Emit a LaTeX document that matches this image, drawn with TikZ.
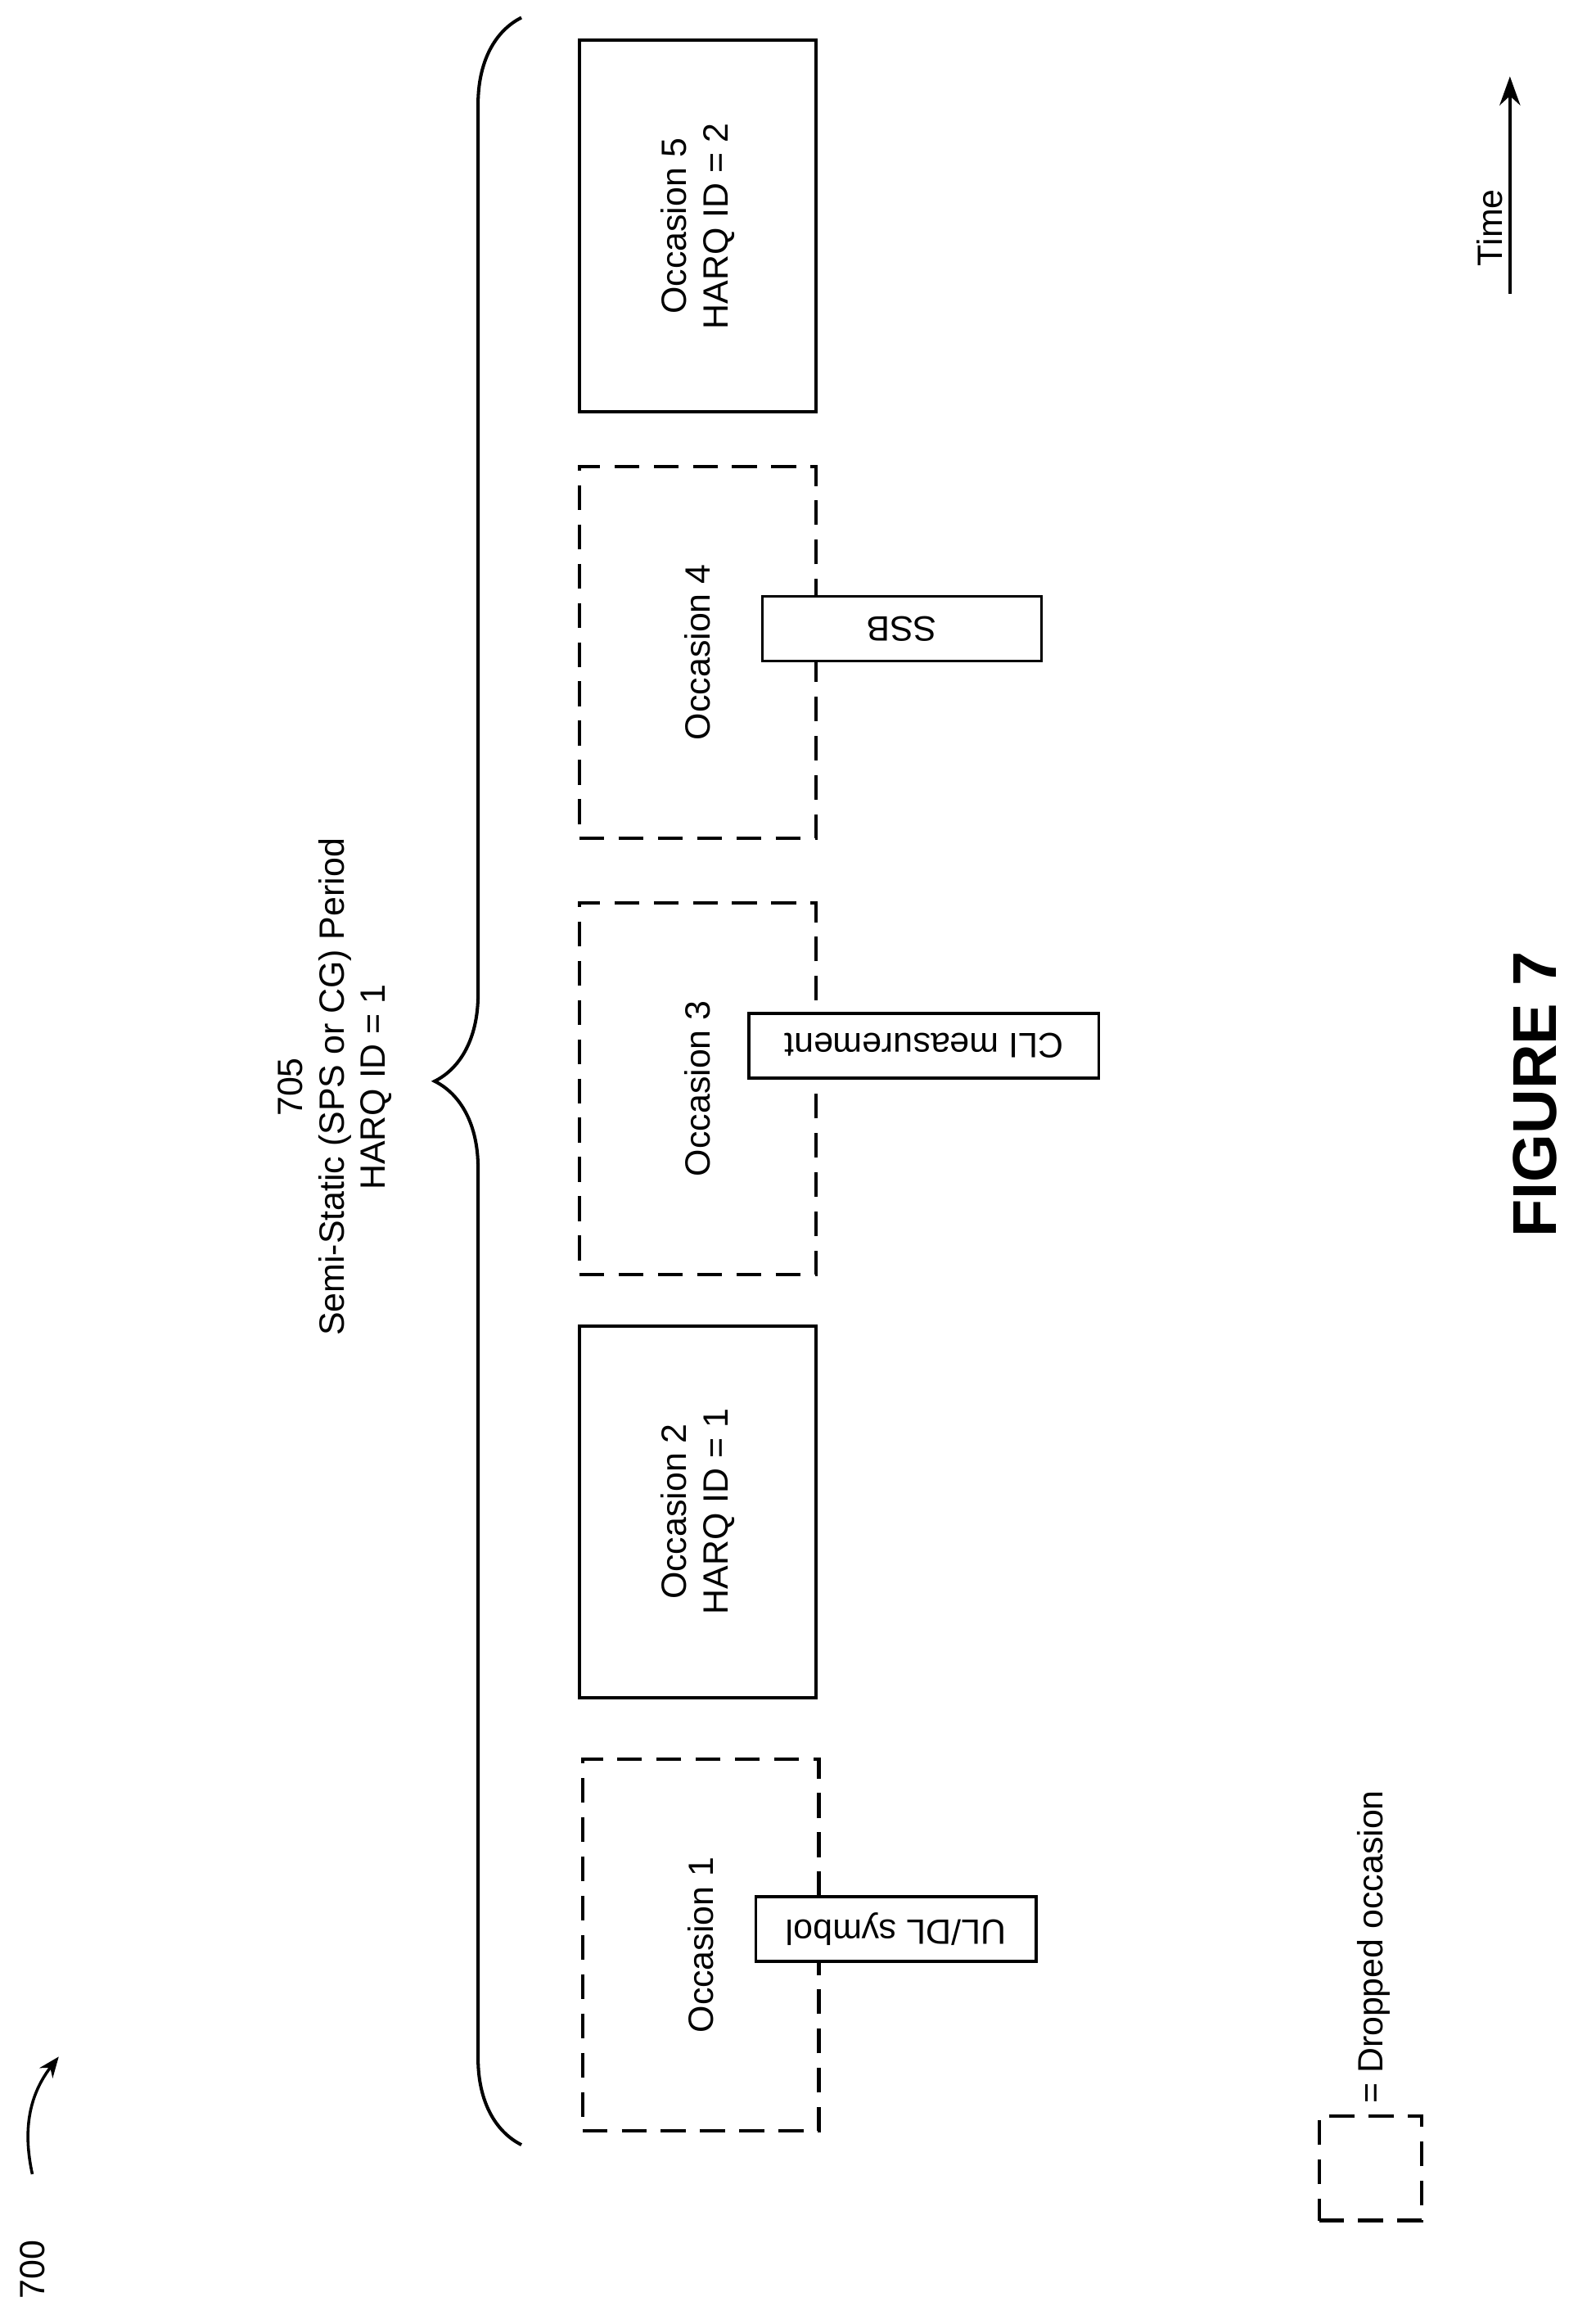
\documentclass[tikz,border=0pt]{standalone}
\usepackage{fontspec}
\setmainfont{Liberation Sans}
\usetikzlibrary{decorations.pathreplacing,arrows.meta}

\tikzset{
  occ/.style={draw, line width=1.6pt, minimum width=161*0.025cm, minimum height=253*0.025cm, inner sep=0pt},
  dropped/.style={occ, dash pattern=on 12pt off 7pt},
  tag/.style={draw, fill=white, line width=1.4pt, inner sep=0pt, rotate=180, minimum height=44*0.025cm, font=\fontsize{17}{20}\selectfont},
  lbl/.style={rotate=90, align=center, font=\fontsize{17}{20}\selectfont},
}

\begin{document}
\begin{tikzpicture}[x=0.025cm, y=-0.025cm]

    % frame
    \useasboundingbox (0,0) rectangle (1080,1582);

    % occasions (time runs upwards)
    \node[dropped] (o1) at (477,1324) {};
    \node[occ] (o2) at (475,1029) {};
    \node[dropped] (o3) at (475,741) {};
    \node[dropped] (o4) at (475,444) {};
    \node[occ] (o5) at (475,154) {};

    \node[lbl] at (o1) {Occasion 1};
    \node[lbl] at (o2) {Occasion 2\\HARQ ID = 1};
    \node[lbl] at (o3) {Occasion 3};
    \node[lbl] at (o4) {Occasion 4};
    \node[lbl] at (o5) {Occasion 5\\HARQ ID = 2};

    % blocking symbols
    \node[tag, minimum width=191*0.025cm] (ul) at (610,1313) {UL/DL symbol};
    \node[tag, minimum width=238*0.025cm] (cli) at (629,712) {CLI measurement};
    \node[tag, minimum width=190*0.025cm] (ssb) at (614,428) {SSB};

    % period brace
    \coordinate (b1) at (355,1460);
    \coordinate (b2) at (355,12);
    \draw[line width=1.6pt, decorate, decoration={brace, amplitude=42pt}] (b1) -- (b2);
    \node[lbl] (per) at (228,740) {705\\Semi-Static (SPS or CG) Period\\HARQ ID = 1};

    % time arrow
    \coordinate (t1) at (1028,200);
    \coordinate (t2) at (1028,52);
    \draw[line width=1.6pt, -{Stealth[length=14pt,width=10pt]}] (t1) -- (t2);
    \node[lbl, anchor=south] at (1028,155) {Time};

    % figure title
    \node[rotate=90, font=\bfseries\fontsize{30}{36}\selectfont] (fig) at (1045,745) {FIGURE 7};

    % legend
    \node[dropped, minimum width=70*0.025cm, minimum height=71*0.025cm] (leg) at (933,1476) {};
    \node[lbl, anchor=west] at (935,1437) {= Dropped occasion};

    % reference numeral
    \node[lbl] (ref) at (22,1545) {700};
    \draw[line width=1.4pt, -{Stealth[length=10pt,width=8pt]}] (22,1480) to[bend left=25] (40,1400);

\end{tikzpicture}
\end{document}
